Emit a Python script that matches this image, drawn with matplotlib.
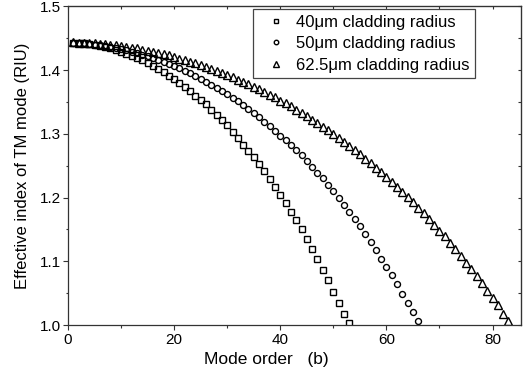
import numpy as np
import matplotlib
matplotlib.use("Agg")
import matplotlib.pyplot as plt
from matplotlib.ticker import MultipleLocator

plt.rcParams['font.family'] = ['Liberation Sans', 'DejaVu Sans']

# Effective index of the TM cladding modes, one value per mode order (1, 2, 3, ...)
neff_40 = [
    1.443, 1.443, 1.442, 1.441, 1.439, 1.438, 1.436, 1.434, 1.431, 1.428,
    1.425, 1.422, 1.419, 1.415, 1.411, 1.406, 1.402, 1.397, 1.391, 1.386,
    1.380, 1.374, 1.367, 1.360, 1.353, 1.346, 1.338, 1.330, 1.322, 1.313,
    1.303, 1.293, 1.283, 1.273, 1.263, 1.252, 1.241, 1.229, 1.217, 1.204,
    1.191, 1.178, 1.164, 1.150, 1.135, 1.119, 1.103, 1.087, 1.070, 1.052,
    1.034, 1.017, 1.003,
]
neff_50 = [
    1.443, 1.442, 1.442, 1.441, 1.440, 1.439, 1.438, 1.436, 1.435, 1.433,
    1.431, 1.429, 1.427, 1.424, 1.422, 1.419, 1.416, 1.413, 1.410, 1.406,
    1.403, 1.399, 1.395, 1.391, 1.386, 1.382, 1.377, 1.372, 1.367, 1.362,
    1.356, 1.351, 1.345, 1.339, 1.332, 1.326, 1.319, 1.312, 1.305, 1.297,
    1.290, 1.282, 1.274, 1.266, 1.257, 1.248, 1.239, 1.230, 1.220, 1.210,
    1.200, 1.189, 1.178, 1.166, 1.155, 1.142, 1.130, 1.117, 1.104, 1.091,
    1.078, 1.064, 1.049, 1.035, 1.021, 1.007,
]
neff_625 = [
    1.444, 1.443, 1.443, 1.443, 1.442, 1.441, 1.441, 1.440, 1.439, 1.438,
    1.436, 1.435, 1.434, 1.432, 1.430, 1.429, 1.427, 1.425, 1.423, 1.421,
    1.418, 1.416, 1.413, 1.411, 1.408, 1.405, 1.402, 1.399, 1.396, 1.392,
    1.389, 1.385, 1.382, 1.378, 1.374, 1.370, 1.366, 1.361, 1.357, 1.352,
    1.348, 1.343, 1.338, 1.333, 1.328, 1.322, 1.317, 1.311, 1.306, 1.300,
    1.294, 1.287, 1.281, 1.275, 1.268, 1.261, 1.254, 1.247, 1.240, 1.232,
    1.225, 1.217, 1.209, 1.201, 1.193, 1.184, 1.175, 1.166, 1.157, 1.148,
    1.139, 1.129, 1.119, 1.109, 1.098, 1.088, 1.077, 1.066, 1.054, 1.043,
    1.031, 1.018, 1.006,
]

series = [
    (neff_40, 's', 3.8, '40\u03bcm cladding radius'),
    (neff_50, 'o', 4.3, '50\u03bcm cladding radius'),
    (neff_625, '^', 5.3, '62.5\u03bcm cladding radius'),
]

fig = plt.figure(figsize=(5.26, 3.77), dpi=100)
ax = fig.add_axes([0.1293, 0.1379, 0.8606, 0.8454])

for vals, marker, ms, label in series:
    order = np.arange(1, len(vals) + 1)
    ax.plot(order, vals, linestyle='none', marker=marker, markersize=ms,
            markerfacecolor='none', markeredgecolor='black',
            markeredgewidth=1.0, label=label)

ax.set_xlim(0, 85.3)
ax.set_ylim(1.0, 1.5)
ax.xaxis.set_major_locator(MultipleLocator(20))
ax.xaxis.set_minor_locator(MultipleLocator(10))
ax.yaxis.set_major_locator(MultipleLocator(0.1))
ax.yaxis.set_minor_locator(MultipleLocator(0.05))
ax.yaxis.set_major_formatter(plt.FormatStrFormatter('%.1f'))

ax.tick_params(which='major', direction='out', length=3.4, width=0.8,
               labelsize=11, pad=2, color='#333333')
ax.tick_params(which='minor', direction='out', length=1.8, width=0.8,
               color='#333333')
for sp in ax.spines.values():
    sp.set_linewidth(0.9)
    sp.set_color('#333333')

# inward ticks on the top and right frame, no labels
top = ax.secondary_xaxis('top')
top.xaxis.set_major_locator(MultipleLocator(10))
top.tick_params(direction='in', length=2.4, width=0.8, labeltop=False,
                color='#333333')
right = ax.secondary_yaxis('right')
right.yaxis.set_major_locator(MultipleLocator(0.05))
right.tick_params(direction='in', length=2.4, width=0.8, labelright=False,
                  color='#333333')

ax.set_xlabel('Mode order   (b)', fontsize=12.5)
ax.xaxis.set_label_coords(0.437, -0.085)
ax.set_ylabel('Effective index of TM mode (RIU)', fontsize=12)
ax.yaxis.set_label_coords(-0.083, 0.5)

leg = ax.legend(loc='upper left', bbox_to_anchor=(0.409, 0.991),
                borderaxespad=0, fancybox=False, edgecolor='#444444',
                framealpha=1, fontsize=12, markerscale=0.75,
                handlelength=2.1, handletextpad=0.1, labelspacing=0.38,
                borderpad=0.35)
leg.get_frame().set_linewidth(0.9)

fig.savefig('out.png', dpi=100)
